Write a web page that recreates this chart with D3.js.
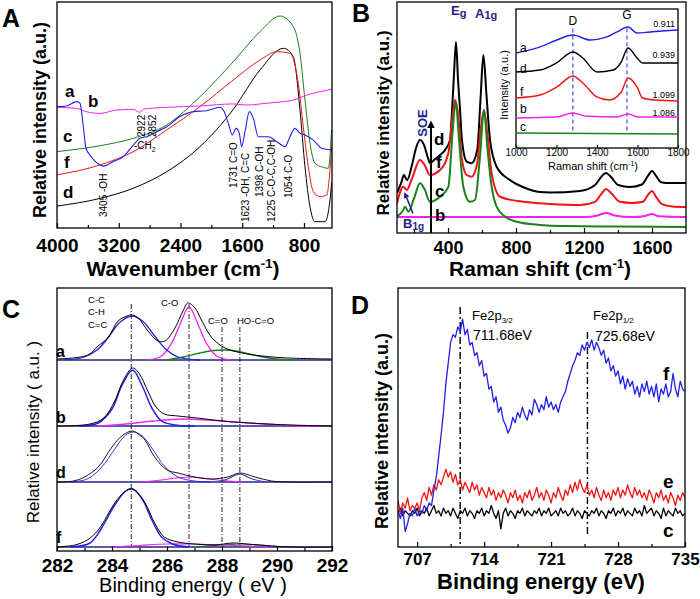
<!DOCTYPE html>
<html>
<head>
<meta charset="utf-8">
<script src="https://cdn.jsdelivr.net/npm/d3@7"></script>
<style>
body{margin:0;background:#fff}
svg text{font-family:Arial,"Liberation Sans",sans-serif}
</style>
</head>
<body>
<script>
// colours used by the original figure
const BLUE = "#2020e8", RED = "#f01414", GREEN = "#1b801b", MAG = "#ee22ee", NAVY = "#23238f";

// ---------- A : FTIR (wavenumber, a.u.) ----------
const ftirTicks = [4000, 3200, 2400, 1600, 800];
const ftirMinor = [3600, 2800, 2000, 1200];
const ftirA = [[4000,53.7],[3875,54.0],[3745,55.9],[3702,55.2],[3659,44.8],[3624,35.3],[3572,32.3],[3443,27.9],[3400,27.4],[3270,29.4],[3141,31.6],[3011,36.7],[2925,39.7],[2838,40.4],[2709,42.6],[2579,44.8],[2407,49.3],[2234,51.5],[2061,51.9],[1888,53.4],[1845,52.2],[1780,46.3],[1729,41.2],[1681,44.1],[1638,41.9],[1608,36.0],[1564,42.6],[1508,51.5],[1456,48.5],[1392,40.4],[1327,40.4],[1262,40.4],[1154,38.2],[1089,36.7],[1046,36.0],[982,40.4],[917,44.1],[852,41.9],[787,41.2],[679,38.9],[571,35.3],[442,34.5]];
const ftirB = [[4000,53.4],[3745,52.9],[3624,51.5],[3443,50.7],[3227,52.2],[3011,52.5],[2925,51.2],[2880,52.6],[2838,52.8],[2579,53.4],[2147,54.0],[1716,54.9],[1543,54.4],[1284,55.2],[1068,55.9],[938,56.6],[766,58.8],[593,60.3],[442,61.4]];
const ftirC = [[4000,33.8],[3443,36.4],[3011,39.7],[2579,45.6],[2147,58.1],[1716,73.6],[1370,86.9],[1111,93.8],[938,89.1],[852,77.3],[787,56.6],[722,37.5],[658,28.6],[571,27.1],[485,26.4],[442,43.4]];
const ftirF = [[4000,23.5],[3443,27.9],[3011,33.8],[2579,43.4],[2147,53.7],[1716,65.5],[1370,74.3],[1154,78.0],[982,77.3],[874,64.0],[809,44.8],[744,27.1],[679,16.1],[593,13.9],[506,14.6],[442,36.0]];
const ftirD = [[4000,9.7],[3443,13.1],[3011,17.6],[2579,24.9],[2147,36.0],[1716,52.5],[1370,69.9],[1068,79.5],[938,75.8],[852,52.2],[787,27.1],[722,9.4],[658,2.8],[528,2.8],[463,12.4],[442,20]];
const ftirPeaks = ["3405 -OH", "2922", "2852", "1731 C=O", "1623 -OH, C=C", "1398 C-OH", "1225 C-O-C,C-OH", "1054 C-O"];

// ---------- B : Raman (shift, a.u.) ----------
const ramanTicks = [400, 800, 1200, 1600];
const ramanMinor = [200, 600, 1000, 1400];
const ramanD = [[100,17.3],[124,21.6],[141,25.1],[159,22.9],[188,29.4],[212,36.8],[235,40.3],[259,38.1],[282,32.5],[294,30.3],[318,31.6],[353,33.8],[382,35.9],[412,40.3],[424,53.2],[435,68.4],[447,82.7],[459,66.2],[471,53.2],[482,40.3],[510,30.9],[539,30.2],[572,35.9],[592,59],[608,77.1],[627,59],[647,40.3],[686,28.7],[765,22.9],[841,19.9],[941,17.7],[1000,17.5],[1176,18.2],[1265,20.8],[1306,24.7],[1329,26.0],[1359,24.2],[1400,20.8],[1471,19.9],[1541,21],[1576,24.7],[1600,26.8],[1624,24.7],[1653,22],[1706,21.6],[1800,21.6]];
const ramanF = [[100,12.9],[137,20],[157,18.6],[190,24],[235,31.6],[262,29.5],[294,25.1],[353,27.3],[402,34.5],[422,47.5],[441,57.6],[461,50.3],[480,33],[510,25.1],[539,24.4],[572,30.2],[592,44.6],[612,53.2],[631,43.2],[657,25.8],[706,15.7],[843,13.5],[941,12.9],[1000,12.6],[1176,12.1],[1265,13.5],[1306,17.3],[1329,19.0],[1359,17.3],[1412,13.5],[1482,13.0],[1547,13.5],[1576,16.5],[1600,18.2],[1624,15.6],[1659,12.5],[1718,11.5],[1800,11.3]];
const ramanC = [[100,7.1],[137,10.0],[147,11.4],[167,9.2],[200,15],[235,21.5],[262,19],[294,13.5],[353,15.7],[402,20],[428,44.6],[445,56.8],[465,40.3],[490,20],[529,13.5],[559,14.3],[588,33],[612,53.2],[631,37.4],[657,20],[686,11.4],[735,7.1],[804,4.9],[941,3.5],[1076,3.0],[1400,2.8],[1800,2.6]];
const ramanB = [[100,6.9],[1200,6.9],[1280,7.6],[1329,8.7],[1380,7.6],[1480,6.9],[1560,7.4],[1600,8.2],[1640,7.2],[1800,6.9]];

// inset : D and G bands
const insetTicks = [1000, 1200, 1400, 1600, 1800];
const insetA = [[1000,68.3],[1119,72.7],[1202,77.7],[1281,81.3],[1365,77.7],[1449,79.9],[1499,83.5],[1553,87],[1598,82.7],[1662,83.5],[1800,84.9]];
const insetD = [[1000,54.7],[1119,56.1],[1200,61.2],[1281,69.1],[1330,64.7],[1400,54.7],[1480,56.1],[1520,62],[1553,71.9],[1598,64.7],[1625,61.2],[1800,61.2]];
const insetF = [[1000,36.0],[1119,38.1],[1202,43.9],[1281,51.8],[1330,46.8],[1400,36.7],[1460,34.5],[1520,40.3],[1553,50.4],[1598,43.9],[1625,36.0],[1690,34.5],[1800,33.8]];
const insetB = [[1000,21.6],[1200,22.3],[1281,25.2],[1350,22.8],[1500,22.3],[1553,24.5],[1600,22.3],[1800,22.3]];
const insetC = [[1000,10.8],[1800,10.1]];
const idRatios = ["0.911", "0.939", "1.099", "1.086"];
const dgBands = [1281, 1548];

// ---------- C : C1s XPS (eV, a.u. above each baseline) ----------
const c1sTicks = [282, 284, 286, 288, 290, 292];
const c1sMinor = [283, 285, 287, 289, 291];
const c1sLines = [284.7, 286.8, 288.0, 288.65];
const xpsAenv = [[282,1],[283.13,5],[283.49,14],[283.85,22],[284.22,39],[284.55,44],[284.73,45],[284.95,42],[285.31,29],[285.67,19],[285.93,19],[286.29,32],[286.58,49],[286.76,57],[287.02,52],[287.27,39],[287.64,22],[288.11,12],[288.73,7],[289.45,4],[290.4,2],[292,1]];
const xpsAcc = [[282.3,0],[283.0,3],[283.5,11],[283.9,24],[284.3,38],[284.73,44],[285.15,38],[285.55,24],[285.95,11],[286.4,3],[287.2,0]];
const xpsAco = [[285.3,0],[285.8,4],[286.15,16],[286.45,34],[286.8,53],[287.15,34],[287.45,16],[287.8,4],[288.3,0]];
const xpsAc2o = [[286,0],[286.6,3],[287.2,7],[287.7,9.5],[288.1,10],[288.5,9],[289,6],[289.5,3],[290,1],[290.6,0]];
const xpsBenv = [[282,0],[283.2,2],[283.7,8],[284.1,25],[284.4,45],[284.75,58],[285.0,52],[285.3,35],[285.6,19],[285.9,12],[286.4,10],[287.1,8],[288,5],[289,3],[290.5,1],[292,0]];
const xpsBcc = [[282.8,0],[283.5,3],[284.0,17],[284.35,40],[284.75,56],[285.1,40],[285.45,18],[285.8,5],[286.3,1],[287,0]];
const xpsBco = [[283.5,0],[284.5,2],[285.5,5],[286.5,7],[287.5,6],[288.5,4],[289.5,2],[290.5,0.5],[291.5,0]];
const xpsDenv = [[282,0],[282.6,1],[283.0,5],[283.5,15],[284.0,35],[284.4,47],[284.75,51],[285.0,47],[285.2,42],[285.55,25],[286.0,12],[286.4,9],[287.0,5],[287.6,3],[288.2,5],[288.65,9],[289.2,5],[289.8,1],[290.5,0],[292,0]];
const xpsDcc = [[282.5,0],[283.1,3],[283.6,14],[284.1,33],[284.5,47],[284.8,50],[285.1,46],[285.5,32],[285.9,16],[286.4,5],[287,1],[287.6,0]];
const xpsDco = [[285,0],[285.8,2],[286.5,4.5],[286.9,5],[287.4,3.5],[288,1.5],[288.8,0]];
const xpsDcooh = [[287.8,0],[288.2,3],[288.65,8],[289.1,3],[289.6,0]];
const xpsFenv = [[282,0],[282.65,2],[283.1,7],[283.5,17],[284.1,44],[284.45,55],[284.75,58],[285.2,44],[285.55,24],[285.9,10],[286.4,5],[287,3],[287.7,2],[288.4,4],[288.9,3],[289.8,1],[290.5,0],[292,0]];
const xpsFcc = [[282.5,0],[283.2,4],[283.6,18],[284.1,42],[284.5,56],[284.75,58],[285.1,48],[285.45,27],[285.8,10],[286.2,3],[286.8,0]];
const xpsFco = [[284,0],[285,1.5],[286,3],[287,3],[288,2],[289,1],[290,0]];
const xpsFc2o = [[287,0],[288,2],[288.7,3],[289.4,2],[290.2,0]];

// ---------- D : Fe2p XPS, sampled every 0.25 eV from 705 eV ----------
const feStart = 705, feStep = 0.25;
const feTicks = [707, 714, 721, 728, 735];
const feMinor = [710.5, 717.5, 724.5, 731.5];
const fePeaks = [711.5, 724.8];
const feF = [14,11,15,6,9,13,12,15,12,14,13,16,14,17,16,22,27,35,43,52,63,71,79,82,81,85,83,88,82,84,78,79,74,75,70,72,66,67,61,62,56,58,52,54,49,47,44,46,50,48,52,50,54,51,49,53,51,57,55,52,55,53,58,54,56,53,55,52,56,58,60,64,67,70,72,75,74,78,76,79,77,80,76,79,77,74,76,71,73,68,70,66,68,63,66,61,65,62,64,59,62,58,63,60,64,59,62,58,63,56,61,59,63,58,60,67,61,58,64,61,60];
const feE = [18,13,17,15,19,14,16,15,17,14,19,21,18,23,20,24,22,26,24,27,30,27,29,25,28,24,26,22,25,23,21,25,22,24,20,23,21,19,23,20,22,18,21,19,22,20,17,21,19,22,18,20,17,21,19,22,18,20,23,19,21,18,22,20,17,21,19,23,20,18,22,20,24,21,25,22,26,23,21,24,20,22,19,23,20,18,22,19,21,18,22,20,23,19,22,20,24,21,19,23,20,22,19,21,18,22,20,17,21,19,22,18,20,17,21,19,16,20,18,21,19];
const feC = [13,15,12,14,13,12,14,13,15,12,14,13,15,12,14,16,13,14,12,15,13,14,12,15,13,11,14,13,15,12,14,13,11,14,13,15,12,14,13,16,13,11,14,7,13,15,12,14,13,11,14,13,15,12,14,13,12,14,13,15,12,14,13,15,12,13,14,12,15,13,14,12,13,15,12,14,13,11,14,13,12,14,13,15,12,14,13,11,14,13,15,12,14,13,15,12,14,13,12,15,13,14,12,16,13,14,15,12,14,13,11,15,12,14,13,12,15,13,14,12,13];

const svg = d3.select("body").append("svg").attr("width", 700).attr("height", 599);
const defs = svg.append("defs");

function marker(id, color) {
	defs.append("marker").attr("id", id).attr("viewBox", "0 0 10 10").attr("refX", 5).attr("refY", 5)
		.attr("markerWidth", 4).attr("markerHeight", 5).attr("orient", "auto-start-reverse")
		.append("path").attr("d", "M0,0L10,5L0,10z").attr("fill", color);
}
marker("arrK", "#000");
marker("arrB", NAVY);

function clip(id, x0, y0, x1, y1) {
	defs.append("clipPath").attr("id", id).append("rect").attr("x", x0).attr("y", y0).attr("width", x1 - x0).attr("height", y1 - y0);
}

function frame(x0, y0, x1, y1, fill) {
	svg.append("rect").attr("x", x0).attr("y", y0).attr("width", x1 - x0).attr("height", y1 - y0)
		.attr("fill", fill || "none").attr("stroke", "#000").attr("stroke-width", 1.3);
}

function xAxis(scale, y, major, minor, size, labelY, tick) {
	const g = svg.append("g").attr("transform", `translate(0,${y})`)
		.call(d3.axisBottom(scale).tickValues(major).tickSize(-(tick || 5)).tickFormat(d3.format("d")));
	g.attr("font-family", null).attr("font-size", null);
	g.select(".domain").remove();
	g.selectAll("line").attr("stroke-width", 1.2);
	g.selectAll("text").attr("y", labelY).attr("dy", null).attr("fill", "#000")
		.style("font-size", size + "px").style("font-weight", size > 12 ? "bold" : "normal");
	if (minor) {
		const m = svg.append("g").attr("transform", `translate(0,${y})`)
			.call(d3.axisBottom(scale).tickValues(minor).tickSize(-(tick || 5) * 0.6).tickFormat(""));
		m.select(".domain").remove();
		m.selectAll("line").attr("stroke-width", 1.2);
	}
}

function label(x, y, s, size, opt) {
	opt = opt || {};
	const t = svg.append("text").attr("x", x).attr("y", y).text(s)
		.style("font-size", size + "px").style("font-weight", opt.bold ? "bold" : "normal")
		.attr("fill", opt.color || "#000").attr("text-anchor", opt.anchor || "start");
	if (opt.rotate) t.attr("x", null).attr("y", null).attr("transform", `translate(${x},${y}) rotate(-90)`);
	return t;
}

function curve(data, line, color, width, clipId) {
	svg.append("path").datum(data).attr("d", line).attr("fill", "none")
		.attr("stroke", color).attr("stroke-width", width).attr("stroke-linejoin", "round")
		.attr("clip-path", `url(#${clipId})`);
}

// ================= A =================
const xA = d3.scaleLinear().domain([4000, 437]).range([57, 332]);
const yA = d3.scaleLinear().domain([0, 100]).range([228, 2]);
clip("clipA", 57, 2, 332, 228);
const lineA = d3.line().x(d => xA(d[0])).y(d => yA(d[1])).curve(d3.curveMonotoneX);
curve(ftirD, lineA, "#000", 1, "clipA");
curve(ftirF, lineA, RED, 1, "clipA");
curve(ftirC, lineA, GREEN, 1, "clipA");
curve(ftirB, lineA, MAG, 1, "clipA");
curve(ftirA, lineA, BLUE, 1.1, "clipA");
frame(57, 2, 332, 228);
xAxis(xA, 228, ftirTicks, ftirMinor, 19, 24);

label(2, 27, "A", 25, {bold: true});
label(65, 97, "a", 17, {bold: true});
label(88, 107, "b", 17, {bold: true});
label(63, 142, "c", 17, {bold: true});
label(64, 168, "f", 17, {bold: true});
label(63, 198, "d", 17, {bold: true});

// peak assignments, written bottom to top
const ftirPeakPos = [[107, 217], [145, 137], [156, 137], [237, 188], [249, 222], [263, 197], [275, 222], [292, 198]];
ftirPeaks.forEach((s, i) => label(ftirPeakPos[i][0], ftirPeakPos[i][1], s, 10, {rotate: true}));
const ch = label(134, 149, "-CH", 10);
ch.append("tspan").attr("dy", 3).style("font-size", "7px").text("2");

const tA = label(183, 276, "Wavenumber (cm", 21, {bold: true, anchor: "middle"});
tA.append("tspan").attr("dy", -8).style("font-size", "13px").text("-1");
tA.append("tspan").attr("dy", 8).text(")");
label(46, 120, "Relative intensity (a.u.)", 18, {bold: true, rotate: true, anchor: "middle"});

// ================= B =================
const xB = d3.scaleLinear().domain([100, 1800]).range([397, 686]);
const yB = d3.scaleLinear().domain([0, 100]).range([233, 2]);
clip("clipB", 397, 2, 686, 233);
const lineB = d3.line().x(d => xB(d[0])).y(d => yB(d[1])).curve(d3.curveMonotoneX);
curve(ramanB, lineB, MAG, 2, "clipB");
curve(ramanD, lineB, "#000", 2, "clipB");
curve(ramanF, lineB, RED, 2, "clipB");
curve(ramanC, lineB, GREEN, 2, "clipB");
frame(397, 2, 686, 233);
xAxis(xB, 233, ramanTicks, ramanMinor, 18, 21);

// SOE arrow and B1g pointer
svg.append("line").attr("x1", xB(300)).attr("x2", xB(300)).attr("y1", yB(0)).attr("y2", yB(47))
	.attr("stroke", "#000").attr("stroke-width", 2).attr("marker-end", "url(#arrK)");
svg.append("line").attr("x1", xB(194)).attr("x2", xB(150)).attr("y1", yB(8.5)).attr("y2", yB(16.5))
	.attr("stroke", NAVY).attr("stroke-width", 1.5).attr("marker-end", "url(#arrB)");

label(352, 22, "B", 25, {bold: true});
label(434, 145, "d", 17, {bold: true});
label(436, 168, "f", 17, {bold: true});
label(435, 197, "c", 17, {bold: true});
label(435, 221, "b", 17, {bold: true});
const eg = label(451, 15, "E", 13, {bold: true, color: NAVY});
eg.append("tspan").attr("dy", 2).style("font-size", "11px").text("g");
const a1g = label(475, 18, "A", 13, {bold: true, color: NAVY});
a1g.append("tspan").attr("dy", 1).style("font-size", "11px").text("1g");
const b1g = label(403, 228, "B", 13, {bold: true, color: NAVY});
b1g.append("tspan").attr("dy", 2).style("font-size", "10px").text("1g");
label(427, 123, "SOE", 13, {bold: true, color: NAVY, rotate: true, anchor: "middle"});

const tB = label(540, 276, "Raman shift (cm", 21, {bold: true, anchor: "middle"});
tB.append("tspan").attr("dy", -8).style("font-size", "13px").text("-1");
tB.append("tspan").attr("dy", 8).text(")");
label(389, 123, "Relative intensity (a.u.)", 17, {bold: true, rotate: true, anchor: "middle"});

// inset
const xI = d3.scaleLinear().domain([1000, 1800]).range([516, 678]);
const yI = d3.scaleLinear().domain([0, 100]).range([148, 9]);
frame(516, 9, 678, 148, "#fff");
clip("clipI", 516, 9, 678, 148);
const lineI = d3.line().x(d => xI(d[0])).y(d => yI(d[1])).curve(d3.curveMonotoneX);
dgBands.forEach(v => svg.append("line").attr("x1", xI(v)).attr("x2", xI(v)).attr("y1", yI(86)).attr("y2", yI(10))
	.attr("stroke", BLUE).attr("stroke-width", 1).attr("stroke-dasharray", "4,3"));
curve(insetC, lineI, GREEN, 1.4, "clipI");
curve(insetB, lineI, MAG, 1.4, "clipI");
curve(insetF, lineI, RED, 1.4, "clipI");
curve(insetD, lineI, "#000", 1.4, "clipI");
curve(insetA, lineI, BLUE, 1.4, "clipI");
xAxis(xI, 148, insetTicks, null, 10, 8, 3);
label(xI(dgBands[0]), 25, "D", 12, {anchor: "middle"});
label(xI(dgBands[1]), 19, "G", 12, {anchor: "middle"});
["a", "d", "f", "b", "c"].forEach((s, i) => label(520, [52, 73, 96, 113, 131][i], s, 12));
idRatios.forEach((s, i) => label(675, [27, 58, 98, 116][i], s, 9, {anchor: "end"}));
const tI = label(593, 170, "Raman shift (cm", 11, {anchor: "middle"});
tI.append("tspan").attr("dy", -4).style("font-size", "7px").text("-1");
tI.append("tspan").attr("dy", 4).text(")");
label(508, 85, "Intensity (a.u.)", 11, {rotate: true, anchor: "middle"});

// ================= C =================
const xC = d3.scaleLinear().domain([282, 292]).range([57, 332]);
clip("clipC", 57, 288, 332, 551);
const bases = [360, 426, 482, 547];
const yC = bases.map(b => d3.scaleLinear().domain([0, 100]).range([b, b - 100]));
const lineC = y => d3.line().x(d => xC(d[0])).y(d => y(d[1])).curve(d3.curveCatmullRom.alpha(0.5));

c1sLines.forEach((v, i) => svg.append("line").attr("x1", xC(v)).attr("x2", xC(v))
	.attr("y1", i < 2 ? 304 : 327).attr("y2", 547)
	.attr("stroke", "#222").attr("stroke-width", 1).attr("stroke-dasharray", "5,2,1,2"));
bases.forEach(b => svg.append("line").attr("x1", 57).attr("x2", 332).attr("y1", b).attr("y2", b)
	.attr("stroke", NAVY).attr("stroke-width", 1.6));

curve(xpsAc2o, lineC(yC[0]), GREEN, 1.3, "clipC");
curve(xpsAco, lineC(yC[0]), MAG, 1.3, "clipC");
curve(xpsAcc, lineC(yC[0]), BLUE, 1.3, "clipC");
curve(xpsAenv, lineC(yC[0]), "#000", 1, "clipC");
curve(xpsBco, lineC(yC[1]), MAG, 1.3, "clipC");
curve(xpsBcc, lineC(yC[1]), BLUE, 1.5, "clipC");
curve(xpsBenv, lineC(yC[1]), "#000", 1, "clipC");
curve(xpsDco, lineC(yC[2]), MAG, 1.2, "clipC");
curve(xpsDcooh, lineC(yC[2]), "#4b3aa8", 1.2, "clipC");
curve(xpsDcc, lineC(yC[2]), BLUE, 0.9, "clipC");
curve(xpsDenv, lineC(yC[2]), "#000", 0.9, "clipC");
curve(xpsFc2o, lineC(yC[3]), GREEN, 1.2, "clipC");
curve(xpsFco, lineC(yC[3]), MAG, 1.2, "clipC");
curve(xpsFcc, lineC(yC[3]), BLUE, 1.5, "clipC");
curve(xpsFenv, lineC(yC[3]), "#000", 1, "clipC");
frame(57, 288, 332, 551);
xAxis(xC, 551, c1sTicks, c1sMinor, 19, 21);

label(2, 318, "C", 25, {bold: true});
["a", "b", "d", "f"].forEach((s, i) => label(56, [357, 423, 478, 543][i], s, 16, {bold: true}));
label(88, 303, "C-C", 9.5);
label(88, 315, "C-H", 9.5);
label(88, 328, "C=C", 9.5);
label(161, 306, "C-O", 9.5);
label(208, 324, "C=O", 9.5);
label(237, 324, "HO-C=O", 9.5);
label(193, 592, "Binding energy ( eV )", 20, {anchor: "middle"});
label(39, 432, "Relative  intensity ( a.u. )", 17, {rotate: true, anchor: "middle"});

// ================= D =================
const xD = d3.scaleLinear().domain([705, 735]).range([398, 685]);
const yD = d3.scaleLinear().domain([0, 100]).range([547, 288]);
clip("clipD", 398, 288, 685, 547);
const lineD = d3.line().x((d, i) => xD(feStart + i * feStep)).y(d => yD(d));
fePeaks.forEach((v, i) => svg.append("line").attr("x1", xD(v)).attr("x2", xD(v))
	.attr("y1", i ? 332 : 307).attr("y2", i ? 535 : 545)
	.attr("stroke", "#000").attr("stroke-width", 1.4).attr("stroke-dasharray", "7,3,2,3"));
curve(feC, lineD, "#000", 1.3, "clipD");
curve(feE, lineD, RED, 1.3, "clipD");
curve(feF, lineD, BLUE, 1.3, "clipD");
frame(398, 288, 685, 547);
xAxis(xD, 547, feTicks, feMinor, 17, 18);

label(351, 314, "D", 25, {bold: true});
const p1 = label(472, 320, "Fe2p", 13);
p1.append("tspan").attr("dy", 3).style("font-size", "8px").text("3/2");
label(473, 340, "711.68eV", 14);
const p2 = label(593, 320, "Fe2p", 13);
p2.append("tspan").attr("dy", 3).style("font-size", "8px").text("1/2");
label(595, 341, "725.68eV", 14);
label(663, 380, "f", 19, {bold: true});
label(663, 488, "e", 19, {bold: true});
label(663, 537, "c", 19, {bold: true});
label(541, 589, "Binding energy (eV)", 22, {bold: true, anchor: "middle"});
label(388, 431, "Relative intensity (a.u.)", 18, {bold: true, rotate: true, anchor: "middle"});
</script>
</body>
</html>
